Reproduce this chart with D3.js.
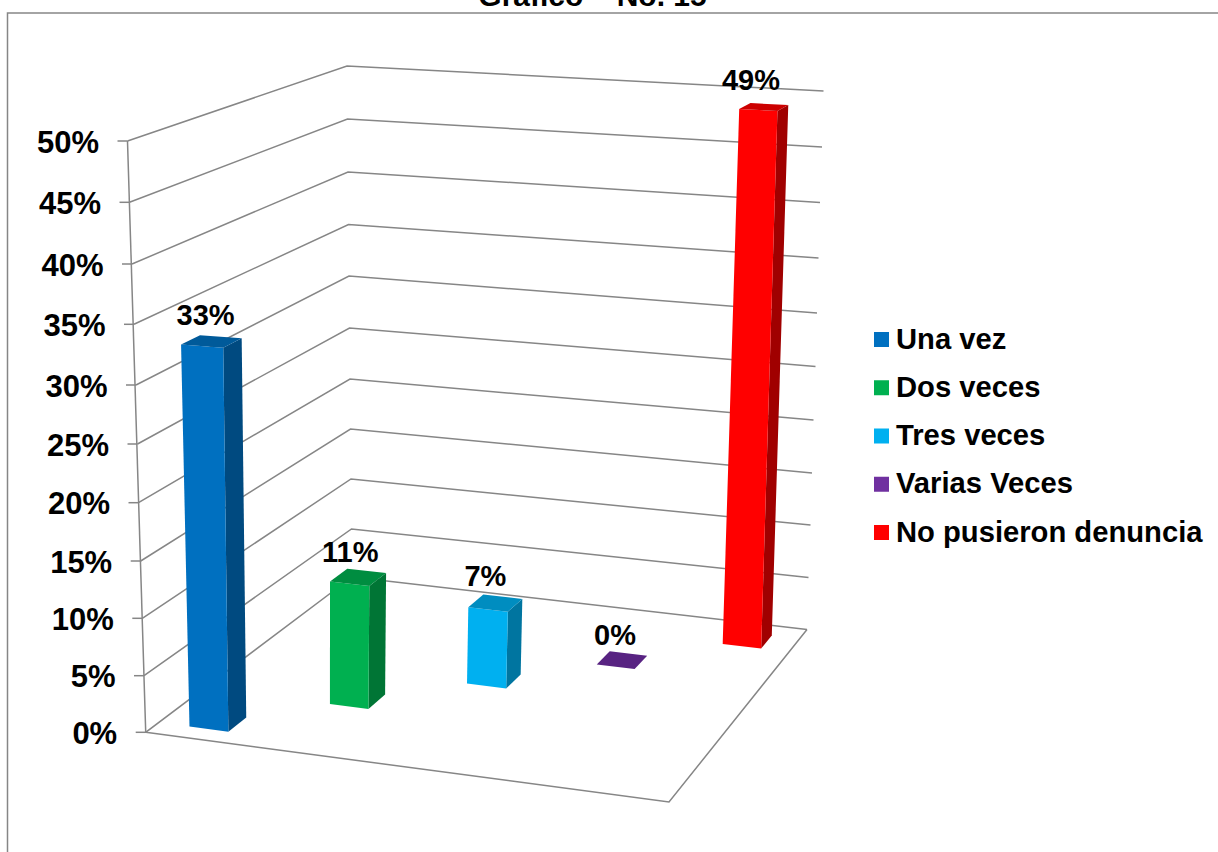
<!DOCTYPE html>
<html><head><meta charset="utf-8">
<script src="https://cdn.jsdelivr.net/npm/d3@7"></script>
<style>html,body{margin:0;padding:0;background:#fff;overflow:hidden}svg{display:block}text{font-family:"Liberation Sans",Arial,sans-serif;font-weight:bold;fill:#000}</style>
</head><body><svg id="c" width="1218" height="852"></svg>
<script>
// ---- data ----
const categories = ["Una vez","Dos veces","Tres veces","Varias Veces","No pusieron denuncia"];
const values = [33,11,7,0,49];
const valueLabels = ["33%","11%","7%","0%","49%"];
const axisTicks = [0,5,10,15,20,25,30,35,40,45,50];
const titleText = "Gráfico\u00a0\u00a0\u00a0\u00a0No. 15";
const frontFaceColors = ["#0070C0","#00B050","#00B0F0","#5B2483","#FF0000"];
const topFaceColors = ["#005A9A","#008D40","#008DC0","#582382","#CC0000"];
const sideFaceColors = ["#004A80","#007535","#0075A0","#4A1C6B","#A00000"];
const legendColors = ["#0070C0","#00B050","#00B0F0","#7030A0","#FF0000"];

// ---- layout: perspective of the 3D box ----
const gridColor = "#868686";
const frontY = [732.3,675.7,618.3,561,502.7,444,385,324.3,264,202.3,141];
const frontX = [145.7,144,142.3,140.7,138.5,137.5,136,134,132,129.5,127.5];
const backY  = [577,529,479,429,379,328,276,224.5,172,119,66];
const backX  = [352,351.5,351,350.5,350,349.5,349,348.5,348,347.5,347];
const rightY = [629.5,577.5,525,473,420,366.5,313,258,202.5,147,91];
const rightX = [807,808.5,810.5,812,813.5,815.5,817,818.5,820,822,823.5];
const fy = d3.scaleLinear(axisTicks, frontY), fx = d3.scaleLinear(axisTicks, frontX);
const by = d3.scaleLinear(axisTicks, backY),  bx = d3.scaleLinear(axisTicks, backX);
const ry = d3.scaleLinear(axisTicks, rightY), rx = d3.scaleLinear(axisTicks, rightX);
const floorCornerB = [669,802], topCornerB = [685,168];

function quad(p0,p1,p2,p3){ // unit square (0,0),(1,0),(1,1),(0,1) -> p0,p1,p2,p3
  const dx1=p1[0]-p2[0],dx2=p3[0]-p2[0],sx=p0[0]-p1[0]+p2[0]-p3[0];
  const dy1=p1[1]-p2[1],dy2=p3[1]-p2[1],sy=p0[1]-p1[1]+p2[1]-p3[1];
  const den=dx1*dy2-dx2*dy1;
  const g=(sx*dy2-dx2*sy)/den,h=(dx1*sy-sx*dy1)/den;
  const a=p1[0]-p0[0]+g*p1[0],b=p3[0]-p0[0]+h*p3[0],c=p0[0];
  const d=p1[1]-p0[1]+g*p1[1],e=p3[1]-p0[1]+h*p3[1],f=p0[1];
  return (u,v)=>{const w=g*u+h*v+1;return [(a*u+b*v+c)/w,(d*u+e*v+f)/w];};
}
const floorQ = quad([fx(0),fy(0)],floorCornerB,[rx(0),ry(0)],[bx(0),by(0)]);
const topQ   = quad([fx(50),fy(50)],topCornerB,[rx(50),ry(50)],[bx(50),by(50)]);
const hFrac = v => (fy(0)-fy(v))/(fy(0)-fy(50));
function proj(u,d,v){
  const a=floorQ(u,d),b=topQ(u,d),t=hFrac(v);
  return [a[0]+(b[0]-a[0])*t,a[1]+(b[1]-a[1])*t];
}
// footprint of each column on the floor (u along front edge, d along depth)
const barU0 = [0.062,0.258,0.461,0.662,0.862];
const barUW = [0.078,0.078,0.08,0.078,0.08];
const barD0 = [0.055,0.255,0.452,0.645,0.852];
const barDW = [0.08,0.085,0.085,0.085,0.085];
const labelDx = [-6,-8,-10,-7,-13], labelDy = [-16,-15,-17,-15,-17];

const svg = d3.select("#c");
const line = d3.line();
const poly = pts => line(pts)+"Z";

// frame & title
svg.append("path").attr("d",line([[7.5,852],[7.5,13],[1218,13]])).attr("fill","none").attr("stroke",gridColor).attr("stroke-width",1.5);
svg.append("text").attr("x",592.5).attr("y",6).attr("text-anchor","middle").attr("font-size",30).text(titleText);

// grid
const g = svg.append("g").attr("fill","none").attr("stroke",gridColor).attr("stroke-width",1.5);
g.selectAll("path.grid").data(axisTicks).join("path").attr("class","grid")
  .attr("d",t=> t===0 ? line([[bx(t),by(t)],[rx(t),ry(t)]]) : line([[fx(t),fy(t)],[bx(t),by(t)],[rx(t),ry(t)]]));
g.selectAll("path.tick").data(axisTicks).join("path").attr("class","tick")
  .attr("d",t=>line([[fx(t)-10,fy(t)],[fx(t),fy(t)]]));
g.append("path").attr("d",line([[fx(50),fy(50)],[fx(0),fy(0)]]));
g.append("path").attr("d",line([[bx(0),by(0)],[fx(0),fy(0)],floorCornerB,[rx(0),ry(0)]]));

// axis labels
svg.selectAll("text.tk").data(axisTicks).join("text").attr("class","tk")
  .attr("x",t=>fx(t)-28.5).attr("y",t=>fy(t)+11.5).attr("text-anchor","end").attr("font-size",31)
  .text(t=>t+"%");

// bars
const bars = svg.selectAll("g.bar").data(values).join("g").attr("class","bar");
bars.each(function(v,i){
  const u0=barU0[i],u1=u0+barUW[i],d0=barD0[i],d1=d0+barDW[i],s=d3.select(this);
  if(v>0){
    s.append("path").attr("fill",sideFaceColors[i]).attr("d",poly([proj(u1,d0,0),proj(u1,d1,0),proj(u1,d1,v),proj(u1,d0,v)]));
    s.append("path").attr("fill",frontFaceColors[i]).attr("d",poly([proj(u0,d0,0),proj(u1,d0,0),proj(u1,d0,v),proj(u0,d0,v)]));
  }
  s.append("path").attr("fill",topFaceColors[i]).attr("d",poly([proj(u0,d0,v),proj(u1,d0,v),proj(u1,d1,v),proj(u0,d1,v)]));
  const c=proj((u0+u1)/2,(d0+d1)/2,v);
  s.append("text").attr("x",c[0]+labelDx[i]).attr("y",c[1]+labelDy[i]).attr("text-anchor","middle").attr("font-size",29).text(valueLabels[i]);
});

// legend
const ly = d3.scalePoint(categories,[332,525]);
const lg = svg.selectAll("g.lg").data(categories).join("g").attr("class","lg");
lg.append("rect").attr("x",874).attr("y",d=>ly(d)).attr("width",15).attr("height",15).attr("fill",(d,i)=>legendColors[i]);
lg.append("text").attr("x",896).attr("y",d=>ly(d)+16.5).attr("font-size",29.2).text(d=>d);
</script></body></html>
